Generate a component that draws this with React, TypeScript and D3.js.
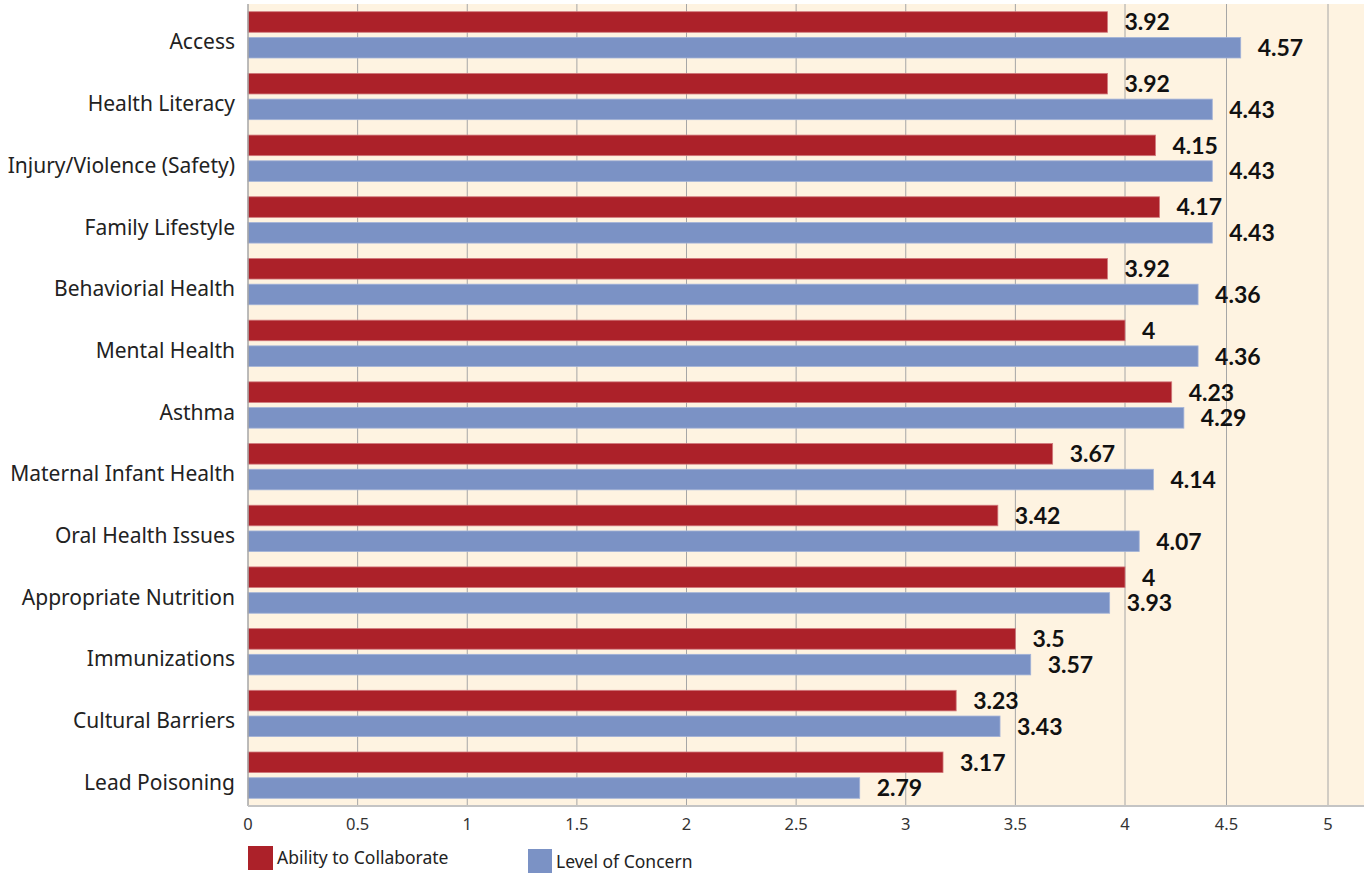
import React from 'react';
import * as d3 from 'd3';

const categories = [
    'Access',
    'Health Literacy',
    'Injury/Violence (Safety)',
    'Family Lifestyle',
    'Behaviorial Health',
    'Mental Health',
    'Asthma',
    'Maternal Infant Health',
    'Oral Health Issues',
    'Appropriate Nutrition',
    'Immunizations',
    'Cultural Barriers',
    'Lead Poisoning'
];

const collaborate = [3.92, 3.92, 4.15, 4.17, 3.92, 4, 4.23, 3.67, 3.42, 4, 3.5, 3.23, 3.17];
const concern = [4.57, 4.43, 4.43, 4.43, 4.36, 4.36, 4.29, 4.14, 4.07, 3.93, 3.57, 3.43, 2.79];

const seriesNames = ['Ability to Collaborate', 'Level of Concern'];
const seriesColors = ['#AC2129', '#7B92C5'];
const seriesStroke = ['#D0787C', '#A3B3D8'];

const xTicks = [0, 0.5, 1, 1.5, 2, 2.5, 3, 3.5, 4, 4.5, 5];

const W = 1364, H = 873;
const plot = { left: 248, right: 1364, top: 4, bottom: 806 };
const font = '"Noto Sans", sans-serif';
const boldFont = 'Lato, "Noto Sans", sans-serif';

export default function App() {

    // the picture's axis is a bit squeezed past 4, so the scale is piecewise
    const x = d3.scaleLinear().domain([0, 4, 5]).range([plot.left, 1125, 1328]);
    const y0 = d3.scaleBand().domain(categories).range([plot.top, plot.bottom]);
    const y1 = d3.scaleBand().domain(['0', '1'])
        .range([7.7, y0.bandwidth() - 7.7]).paddingInner(0.2);

    const rows = categories.map((c, i) => ({ c, vals: [collaborate[i], concern[i]] }));

    return <div>
        <svg width={W} height={H} style={{ position: 'absolute', left: 0, top: 0 }}>
            <rect x={plot.left} y={plot.top} width={plot.right - plot.left}
                height={plot.bottom - plot.top} fill="#FEF3E1" />

            {xTicks.map(t => (
                <g key={t}>
                    {t > 0 && <line x1={x(t)} x2={x(t)} y1={plot.top} y2={plot.bottom}
                        stroke="#A6A6A6" strokeWidth={1} />}
                    <text x={x(t)} y={826} textAnchor="middle" dominantBaseline="middle"
                        fontFamily={font} fontSize={16.5} fill="#333">{d3.format('~g')(t)}</text>
                </g>
            ))}

            {rows.map(r => (
                <g key={r.c} transform={`translate(0,${y0(r.c)})`}>
                    <text x={235} y={y0.bandwidth() / 2 + 9} textAnchor="end" dominantBaseline="middle"
                        fontFamily={font} fontSize={21} fill="#222">{r.c}</text>
                    {r.vals.map((v, k) => (
                        <g key={k}>
                            <rect x={x(0)} y={y1(String(k))} width={x(v) - x(0)} height={y1.bandwidth()}
                                fill={seriesColors[k]} stroke={seriesStroke[k]} strokeWidth={0.8} />
                            <text x={x(v) + 17} y={(y1(String(k)) as number) + y1.bandwidth() / 2 + 2.5}
                                dominantBaseline="middle" fontFamily={boldFont} fontWeight={700}
                                fontSize={23} fill="#111">{d3.format('~g')(v)}</text>
                        </g>
                    ))}
                </g>
            ))}

            <line x1={plot.left} x2={plot.left} y1={plot.top} y2={plot.bottom} stroke="#A6A6A6" strokeWidth={1.5} />
            <line x1={plot.left} x2={plot.right} y1={plot.bottom} y2={plot.bottom} stroke="#C4C4C4" strokeWidth={2} />

            <rect x={248} y={846} width={25} height={24} fill={seriesColors[0]} />
            <text x={277} y={859} dominantBaseline="middle" fontFamily={font} fontSize={17.5} fill="#222">{seriesNames[0]}</text>
            <rect x={528} y={849} width={24} height={24} fill={seriesColors[1]} />
            <text x={556} y={863} dominantBaseline="middle" fontFamily={font} fontSize={17.5} fill="#222">{seriesNames[1]}</text>
        </svg>
    </div>
}
